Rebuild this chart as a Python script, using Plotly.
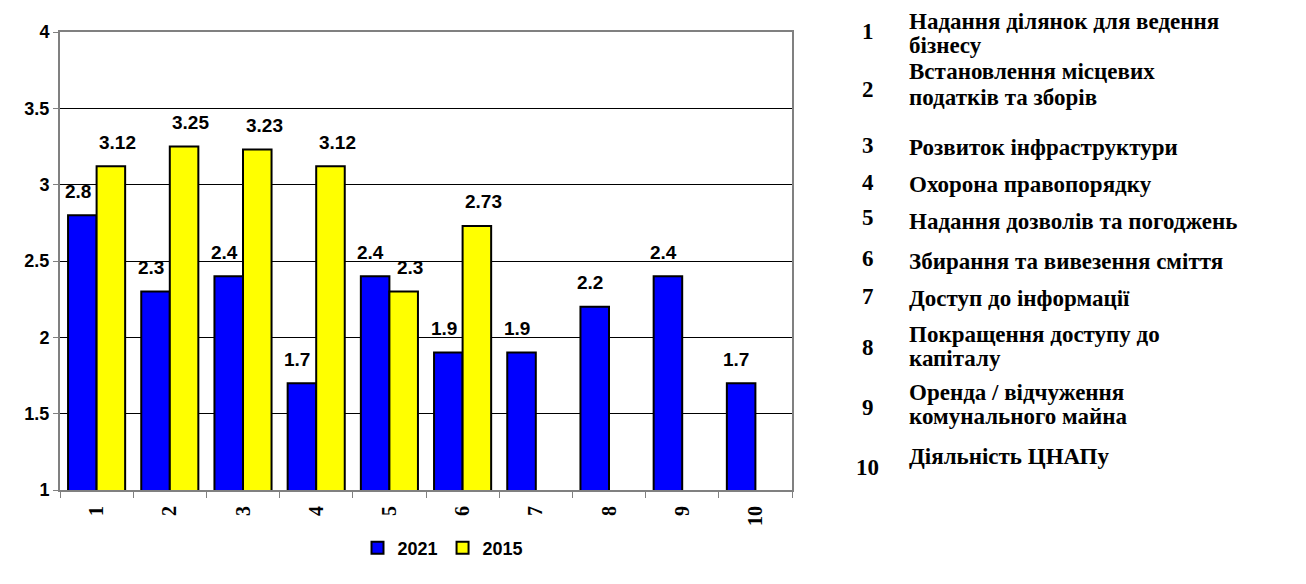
import plotly.graph_objects as go

categories = ["1", "2", "3", "4", "5", "6", "7", "8", "9", "10"]
values_2021 = [2.8, 2.3, 2.4, 1.7, 2.4, 1.9, 1.9, 2.2, 2.4, 1.7]
values_2015 = [3.12, 3.25, 3.23, 3.12, 2.3, 2.73, None, None, None, None]
series_names = ["2021", "2015"]
y_ticks = [1, 1.5, 2, 2.5, 3, 3.5, 4]
legend_items = [
    ["Надання ділянок для ведення", "бізнесу"],
    ["Встановлення місцевих", "податків та зборів"],
    ["Розвиток інфраструктури"],
    ["Охорона правопорядку"],
    ["Надання дозволів та погоджень"],
    ["Збирання та вивезення сміття"],
    ["Доступ до інформації"],
    ["Покращення доступу до", "капіталу"],
    ["Оренда / відчуження", "комунального майна"],
    ["Діяльність ЦНАПу"],
]

OFF = 8  # page body margin
W, H = 1306 - OFF, 584 - OFF
L, R, T, B = 60 - OFF, 792 - OFF, 32 - OFF, 490 - OFF

def px(x):
    return (x - OFF - L) / (R - L)

def py(y):
    return (B - (y - OFF)) / (B - T)

fig = go.Figure()
fig.add_trace(go.Bar(x=categories, y=values_2021, name=f"<b>{series_names[0]}</b>",
                     marker=dict(color="#0000FF", line=dict(color="black", width=2))))
fig.add_trace(go.Bar(x=categories, y=values_2015, name=f"<b>{series_names[1]}</b>",
                     marker=dict(color="#FFFF00", line=dict(color="black", width=2))))

label_font = dict(family="Arial, Liberation Sans", size=19, color="black")
anns = []
for i, v in enumerate(values_2021):
    if v is not None:
        anns.append(dict(x=i, y=v, xref="x", yref="y", text=f"<b>{v:g}</b>", showarrow=False,
                         xshift=-19, yshift=24, yanchor="middle", font=label_font))
for i, v in enumerate(values_2015):
    if v is not None:
        anns.append(dict(x=i, y=v, xref="x", yref="y", text=f"<b>{v:g}</b>", showarrow=False,
                         xshift=21, yshift=24, yanchor="middle", font=label_font))

# right side numbered list
num_y = [31, 90, 145, 182, 218, 258, 296, 347, 407, 467]
txt_y = [[21, 45], [72, 97], [147], [184], [222], [262], [298], [334, 358], [392, 416], [456]]
serif = dict(family="'Liberation Serif', 'Times New Roman', serif", size=23, color="black")
for i, item in enumerate(legend_items):
    anns.append(dict(x=px(868), y=py(num_y[i]), xref="paper", yref="paper",
                     text=f"<b>{i+1}</b>", showarrow=False, xanchor="center",
                     yanchor="middle", font=serif))
    for line, ly in zip(item, txt_y[i]):
        anns.append(dict(x=px(907), y=py(ly), xref="paper", yref="paper",
                         text=f"<b>{line}</b>", showarrow=False, xanchor="left",
                         yanchor="middle", align="left", font=serif))

fig.update_layout(
    width=W, height=H,
    margin=dict(l=L, r=W - R, t=T, b=H - B, pad=0),
    paper_bgcolor="white", plot_bgcolor="white",
    barmode="group", bargap=0.22, bargroupgap=0,
    showlegend=True,
    legend=dict(orientation="h", x=px(443), y=py(548), xanchor="center", yanchor="middle",
                font=dict(family="Arial, Liberation Sans", size=18, color="black"),
                itemwidth=30, traceorder="normal"),
    annotations=anns,
    xaxis=dict(type="category", tickson="boundaries", ticks="outside", ticklen=6,
               tickcolor="#808080", tickwidth=1, tickangle=-90, ticklabelstandoff=6,
               tickvals=categories, ticktext=[f"<b>{c}</b>" for c in categories],
               tickfont=dict(family="'Liberation Serif', 'Times New Roman', serif", size=20, color="black"),
               showline=True, linecolor="#808080", linewidth=2, mirror=True,
               showgrid=False, range=[-0.5, 9.5]),
    yaxis=dict(range=[1, 4], tickvals=y_ticks, ticktext=[f"<b>{t:g}</b>" for t in y_ticks],
               ticks="outside", ticklen=5, tickcolor="#808080",
               tickfont=dict(family="Arial, Liberation Sans", size=18, color="black"),
               showline=True, linecolor="#808080", linewidth=2, mirror=True,
               showgrid=True, gridcolor="black", gridwidth=1, zeroline=False),
)

fig.write_html("out.html")
